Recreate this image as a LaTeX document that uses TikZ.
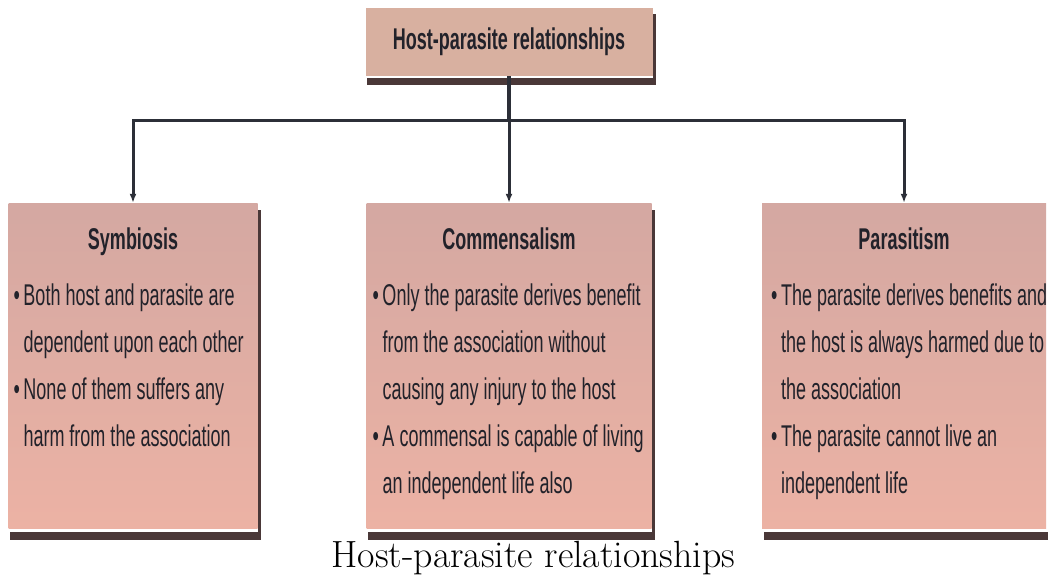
\documentclass[tikz,border=0pt]{standalone}
\usepackage{fontspec}
\usepackage{xcolor}
\usepackage{tikz}
\usetikzlibrary{positioning,arrows.meta}
\newfontfamily\slidefont[FakeStretch=0.6]{Liberation Sans}
\definecolor{boxtop}{RGB}{212,168,162}
\definecolor{boxbottom}{RGB}{236,178,164}
\definecolor{titlefill}{RGB}{216,176,160}
\definecolor{shadowbrown}{RGB}{74,56,56}
\definecolor{linegray}{RGB}{44,47,56}
\definecolor{textdark}{RGB}{34,34,42}
\newcommand{\bitem}[1]{\par\spaceskip=5pt plus 2pt minus 1pt\relax\hangindent=10pt\hangafter=1\noindent\makebox[10pt][l]{\textbullet}#1\par}

\begin{document}
\begin{tikzpicture}[
        x=1pt, y=1pt,
        titlebox/.style={rectangle, fill=titlefill, minimum width=287pt, minimum height=68pt, inner sep=0pt, text=textdark, font=\slidefont\bfseries\fontsize{30}{36}\selectfont},
        kindbox/.style={rectangle, top color=boxtop, bottom color=boxbottom, minimum height=325pt, inner sep=0pt},
        heading/.style={anchor=base, inner sep=0pt, text=textdark, font=\slidefont\bfseries\fontsize{30}{36}\selectfont},
        bodytext/.style={anchor=north west, inner sep=0pt, align=left, text=textdark, font=\slidefont\fontsize{30}{47}\selectfont},
        connector/.style={draw=linegray, line width=3.5pt},
        arrowline/.style={draw=linegray, line width=3pt, -{Latex[length=9pt,width=7pt]}},
        caption/.style={anchor=base, inner sep=0pt, font=\fontsize{37.9}{44}\selectfont}
    ]
    \useasboundingbox[fill=white] (0,0) rectangle (1048,-584);

    % Top box
    \node[titlebox] (title) at (509,-42) {Host-parasite relationships};

    % Three kinds
    \node[kindbox, minimum width=249pt] (sym) at (133,-365.5) {};
    \node[kindbox, minimum width=285pt] (com) at (509,-365.5) {};
    \node[kindbox, minimum width=284pt] (par) at (904,-365.5) {};

    % Shadows: bar below and line on the right
    \fill[shadowbrown] ([xshift=2pt,yshift=-2pt]title.south west) rectangle ([xshift=3pt,yshift=-9pt]title.south east);
    \fill[shadowbrown] ([xshift=0.5pt,yshift=-6pt]title.north east) rectangle ([xshift=3pt,yshift=-9pt]title.south east);
    \fill[shadowbrown] ([xshift=2pt,yshift=-4pt]sym.south west) rectangle ([xshift=3pt,yshift=-12pt]sym.south east);
    \fill[shadowbrown] ([xshift=0.5pt,yshift=-7pt]sym.north east) rectangle ([xshift=3pt,yshift=-12pt]sym.south east);
    \fill[shadowbrown] ([xshift=2pt,yshift=-4pt]com.south west) rectangle ([xshift=3pt,yshift=-12pt]com.south east);
    \fill[shadowbrown] ([xshift=0.5pt,yshift=-7pt]com.north east) rectangle ([xshift=3pt,yshift=-12pt]com.south east);
    \fill[shadowbrown] ([xshift=2pt,yshift=-4pt]par.south west) rectangle ([xshift=2pt,yshift=-12pt]par.south east);

    % Headings
    \node[heading] (symhead) at (133,-249) {Symbiosis};
    \node[heading] (comhead) at (509,-249) {Commensalism};
    \node[heading] (parhead) at (904,-249) {Parasitism};

    % Bullet texts
    \node[bodytext, text width=245pt] (symtext) at ([xshift=5pt,yshift=-55pt]sym.north west) {%
        \bitem{Both host and parasite are\newline dependent upon each other}%
        \bitem{None of them suffers any\newline harm from the association}};
    \node[bodytext, text width=280pt] (comtext) at ([xshift=6pt,yshift=-55pt]com.north west) {%
        \bitem{Only the parasite derives benefit\newline from the association without\newline causing any injury to the host}%
        \bitem{A commensal is capable of living\newline an independent life also}};
    \node[bodytext, text width=290pt] (partext) at ([xshift=9pt,yshift=-55pt]par.north west) {%
        \bitem{The parasite derives benefits and\newline the host is always harmed due to\newline the association}%
        \bitem{The parasite cannot live an\newline independent life}};

    % Connectors
    \coordinate (bus) at (509,-120);
    \draw[connector] (title.south) -- ++(0,-9) -- (bus);
    \draw[arrowline] (bus) -| (sym.north);
    \draw[arrowline] (bus) -| (par.north);
    \draw[arrowline] (bus) -- (com.north);

    % Caption
    \node[caption] (cap) at (533.5,-567) {Host-parasite relationships};
\end{tikzpicture}
\end{document}
